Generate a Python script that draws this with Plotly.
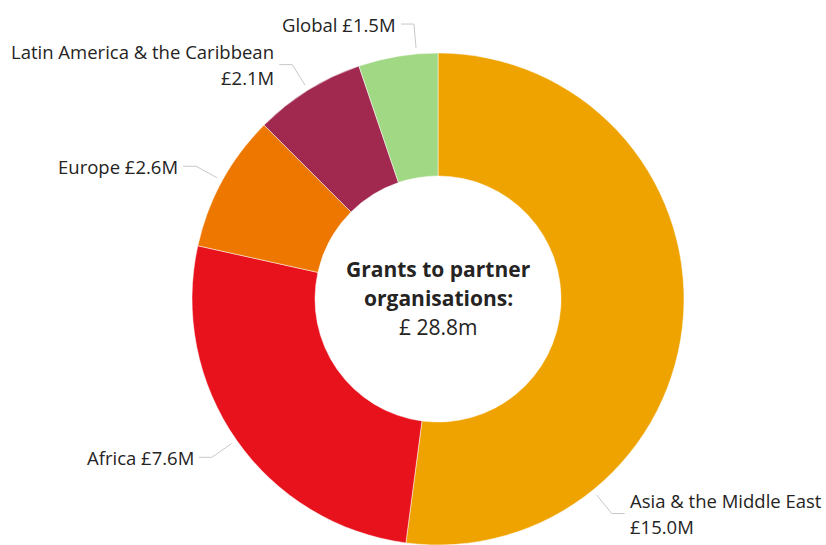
import math
import plotly.graph_objects as go

# Grants to partner organisations by region (£ millions)
regions = ["Asia & the Middle East", "Africa", "Europe",
           "Latin America & the Caribbean", "Global"]
grants_m = [15.0, 7.6, 2.6, 2.1, 1.5]
colors = ["#EFA300", "#E8121C", "#EE7700", "#A12950", "#A0D883"]

W, H = 826, 545
CX, CY, R = 438, 299, 246          # donut centre and outer radius in pixels
TEXT = "#252423"
FONT = "Open Sans, Noto Sans, sans-serif"

# leader-line angles (degrees clockwise from 12 o'clock) where the label is nudged
leader_override = {"Asia & the Middle East": 141, "Global": 355}


def to_paper(x, y):
    return x / W, 1 - y / H


fig = go.Figure(go.Pie(
    labels=regions,
    values=grants_m,
    marker=dict(colors=colors, line=dict(color="white", width=0.5)),
    hole=0.5,
    sort=False,
    direction="clockwise",
    rotation=0,
    textinfo="none",
    hoverinfo="label+value",
    showlegend=False,
    domain=dict(x=[(CX - R) / W, (CX + R) / W], y=[0, 2 * R / H]),
))

total = sum(grants_m)
shapes, annotations = [], []
cum = 0.0
for name, val in zip(regions, grants_m):
    mid = (cum + val / 2) / total * 360
    cum += val
    ang = math.radians(leader_override.get(name, mid))
    s, c = math.sin(ang), math.cos(ang)
    x0, y0 = CX + (R + 6) * s, CY - (R + 6) * c
    x1, y1 = CX + (R + 30) * s, CY - (R + 30) * c
    right = s > 0
    x2 = x1 + (13 if right else -13)
    p0, p1, p2 = to_paper(x0, y0), to_paper(x1, y1), to_paper(x2, y1)
    shapes.append(dict(
        type="path", xref="paper", yref="paper",
        path=f"M {p0[0]},{p0[1]} L {p1[0]},{p1[1]} L {p2[0]},{p2[1]}",
        line=dict(color="#C8C8C8", width=1),
    ))
    tx = (x2 + (3 if right else -3)) / W
    value_txt = f"£{val:.1f}M"
    # long region names put the amount on a second line
    if len(name) > 20:
        lines = [(name, -13), (value_txt, 13)]
    else:
        lines = [(f"{name} {value_txt}", 0)]
    for txt, dy in lines:
        annotations.append(dict(
            x=tx, y=1 - (y1 + dy) / H, xref="paper", yref="paper",
            text=txt,
            showarrow=False,
            xanchor="left" if right else "right",
            yanchor="middle",
            font=dict(family=FONT, size=18.5, color=TEXT),
        ))

# centre caption, one annotation per line
caption = [("<b>Grants to partner</b>", -30),
           ("<b>organisations:</b>", -1),
           (f"£ {total:.1f}m", 28)]
for txt, dy in caption:
    annotations.append(dict(
        x=CX / W, y=1 - (CY + dy) / H, xref="paper", yref="paper",
        text=txt, showarrow=False, xanchor="center", yanchor="middle",
        font=dict(family=FONT, size=21, color=TEXT),
    ))

fig.update_layout(
    width=W, height=H,
    margin=dict(l=0, r=0, t=0, b=0),
    paper_bgcolor="white",
    plot_bgcolor="white",
    shapes=shapes,
    annotations=annotations,
)

fig.write_html("out.html")
